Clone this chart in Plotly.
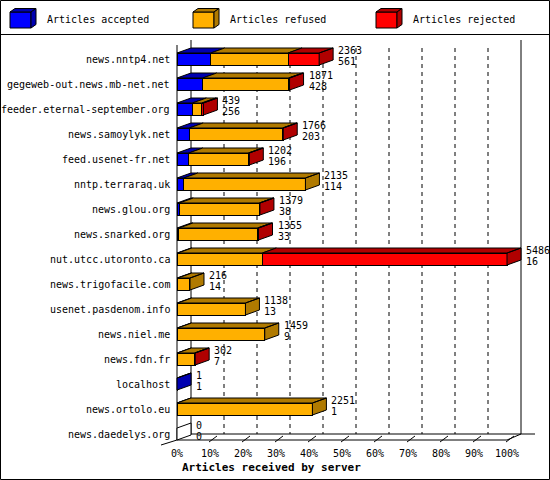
import plotly.graph_objects as go

# servers, top to bottom
servers = [
    "news.nntp4.net",
    "gegeweb-out.news.mb-net.net",
    "feeder.eternal-september.org",
    "news.samoylyk.net",
    "feed.usenet-fr.net",
    "nntp.terraraq.uk",
    "news.glou.org",
    "news.snarked.org",
    "nut.utcc.utoronto.ca",
    "news.trigofacile.com",
    "usenet.pasdenom.info",
    "news.niel.me",
    "news.fdn.fr",
    "localhost",
    "news.ortolo.eu",
    "news.daedelys.org",
]
offered = [2363, 1871, 439, 1766, 1202, 2135, 1379, 1355, 5486, 216, 1138, 1459, 302, 1, 2251, 0]
accepted = [561, 428, 256, 203, 196, 114, 38, 33, 16, 14, 13, 9, 7, 1, 1, 0]
refused = [1285, 1428, 158, 1553, 991, 2021, 1331, 1307, 1403, 202, 1125, 1450, 285, 0, 2250, 0]
rejected = [517, 15, 25, 10, 15, 0, 10, 15, 4067, 0, 0, 0, 10, 0, 0, 0]
tick_pct = [0, 10, 20, 30, 40, 50, 60, 70, 80, 90, 100]
legend_names = ["Articles accepted", "Articles refused", "Articles rejected"]
axis_title = "Articles received by server"

FRONT = ["#0000ff", "#ffb000", "#ff0000"]
DARK = ["#0000b0", "#b07a00", "#b00000"]
FONT = "DejaVu Sans Mono"

# pixel geometry of the picture
W, H = 550, 480
L, R, T, B = 150, 542, 36, 446
X0 = 177          # px of 0%
PX_PCT = 3.3      # px per percent
ROW0 = 59         # px of first row centre
ROW_PX = 25       # px per row


def xp(px):
    return (px - X0) / PX_PCT


def yp(py):
    return (py - ROW0) / ROW_PX


def paper_x(px):
    return (px - L) / (R - L)


def paper_y(py):
    return (B - py) / (B - T)


DX = 14 / PX_PCT
DY = 5 / ROW_PX
HALF = 6 / ROW_PX

top = max(offered)
segments = [accepted, refused, rejected]
pct = [[v / top * 100 for v in seg] for seg in segments]
rows = list(range(len(servers)))

fig = go.Figure()

for k in range(3):
    fig.add_trace(go.Bar(
        y=rows, x=pct[k], orientation="h", width=2 * HALF,
        marker=dict(color=FRONT[k], line=dict(color="black", width=1)),
        hoverinfo="skip", showlegend=False,
    ))

# 3d top and side faces
faces = {k: ([], []) for k in range(4)}
ends = []
for i in rows:
    start = 0
    last = 3
    for k in range(3):
        if segments[k][i] <= 0:
            continue
        w = pct[k][i]
        xs, ys = faces[k]
        xs += [start, start + w, start + w + DX, start + DX, start, None]
        ys += [i - HALF, i - HALF, i - HALF - DY, i - HALF - DY, i - HALF, None]
        start += w
        last = k
    xs, ys = faces[last]
    xs += [start, start + DX, start + DX, start, start, None]
    ys += [i - HALF, i - HALF - DY, i + HALF - DY, i + HALF, i - HALF, None]
    ends.append(start)

for k in range(4):
    xs, ys = faces[k]
    if not xs:
        continue
    fig.add_trace(go.Scatter(
        x=xs, y=ys, mode="lines", fill="toself",
        fillcolor=DARK[k] if k < 3 else "white",
        line=dict(color="black", width=1),
        hoverinfo="skip", showlegend=False,
    ))

shapes = []


def line(x0, y0, x1, y1, dash="solid", layer="below"):
    shapes.append(dict(type="line", xref="x", yref="y", x0=x0, y0=y0, x1=x1, y1=y1,
                       line=dict(color="black", width=1, dash=dash), layer=layer))


# back wall, grid and floor
line(DX, yp(40), DX, yp(434))
line(0, yp(45), 0, yp(440))
line(100 + DX, yp(40), 100 + DX, yp(434))
for p in tick_pct[1:-1]:
    line(p + DX, yp(48), p + DX, yp(434), dash="4px,4px")
line(DX, yp(434), xp(535), yp(434))
line(0, yp(440), 100, yp(440))
line(100, yp(440), 100 + DX, yp(434))
line(xp(161), yp(445), 0, yp(440))
for p in tick_pct[1:]:
    line(p - 1 / PX_PCT, yp(442), p + 7 / PX_PCT, yp(436), layer="above")

# outer frame and legend box
shapes.append(dict(type="rect", xref="paper", yref="paper",
                   x0=paper_x(0.5), y0=paper_y(0.5), x1=paper_x(549.5), y1=paper_y(479.5),
                   line=dict(color="black", width=1)))
shapes.append(dict(type="line", xref="paper", yref="paper",
                   x0=paper_x(0), y0=paper_y(34.5), x1=paper_x(550), y1=paper_y(34.5),
                   line=dict(color="black", width=1)))

annotations = []
for k, name in enumerate(legend_names):
    cx = 10 + 183 * k
    shapes.append(dict(type="rect", xref="paper", yref="paper",
                       x0=paper_x(cx), y0=paper_y(12), x1=paper_x(cx + 21), y1=paper_y(28),
                       fillcolor=FRONT[k], line=dict(color="black", width=1)))
    for pts in ([(cx, 12), (cx + 5, 8.5), (cx + 26, 8.5), (cx + 21, 12)],
                [(cx + 21, 12), (cx + 26, 8.5), (cx + 26, 24.5), (cx + 21, 28)]):
        path = "M " + " L ".join(f"{paper_x(a)},{paper_y(b)}" for a, b in pts) + " Z"
        shapes.append(dict(type="path", xref="paper", yref="paper", path=path,
                           fillcolor=DARK[k], line=dict(color="black", width=1)))
    annotations.append(dict(xref="paper", yref="paper", x=paper_x(cx + 35), y=paper_y(20),
                            text=name, showarrow=False, xanchor="left", yanchor="middle",
                            font=dict(family=FONT, size=10, color="black")))

for i in rows:
    annotations.append(dict(x=0, y=i, xshift=-5, text=servers[i], showarrow=False,
                            xanchor="right", yanchor="middle",
                            font=dict(family=FONT, size=10, color="black")))
    for dy, txt in ((-0.36, offered[i]), (0.08, accepted[i])):
        annotations.append(dict(x=ends[i] + DX, y=i + dy, xshift=3, text=str(txt),
                                showarrow=False, xanchor="left", yanchor="middle",
                                font=dict(family=FONT, size=10, color="black")))

annotations.append(dict(xref="paper", yref="paper", x=paper_x(180), y=paper_y(467),
                        text="<b>" + axis_title + "</b>", showarrow=False,
                        xanchor="left", yanchor="middle",
                        font=dict(family=FONT, size=11, color="black")))

fig.update_layout(
    barmode="stack",
    width=W, height=H,
    margin=dict(l=L, r=W - R, t=T, b=H - B, pad=0),
    paper_bgcolor="white", plot_bgcolor="white",
    showlegend=False,
    shapes=shapes,
    annotations=annotations,
    xaxis=dict(range=[xp(L), xp(R)], showgrid=False, zeroline=False, showline=False,
               tickvals=tick_pct, ticktext=[f"{p}%" for p in tick_pct], ticks="",
               tickfont=dict(family=FONT, size=10, color="black"), fixedrange=True),
    yaxis=dict(range=[yp(B), yp(T)], visible=False, fixedrange=True),
)

fig.write_html(
    "out.html",
    config={"displayModeBar": False},
    post_script="document.body.style.margin='0';document.body.style.overflow='hidden';",
)
